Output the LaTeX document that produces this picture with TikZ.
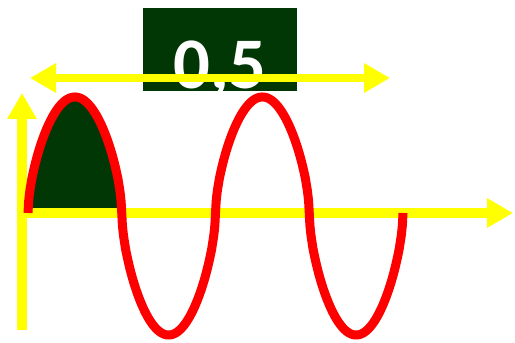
\documentclass[tikz,border=0pt]{standalone}
\usepackage{fontspec}
\setmainfont{Carlito}
\usepackage{xcolor}
\usepackage{tikz}
\usetikzlibrary{arrows.meta,positioning}

\definecolor{boxgreen}{RGB}{0,55,5}
\definecolor{axisyellow}{RGB}{255,255,0}
\definecolor{wavered}{RGB}{255,0,0}

% wave height at x (steep at the crossings, round at the tops)
\tikzset{declare function={
  wavey(\t)=129+(119-3*sign(sin((\t-28)/93.75*180)))*sign(sin((\t-28)/93.75*180))*pow(abs(sin((\t-28)/93.75*180)),0.6);
}}

\begin{document}
\begin{tikzpicture}[
  x=0.03cm, y=0.03cm,
  >={Triangle[length=0.78cm, width=0.84cm]},
  axisline/.style={draw=axisyellow, line width=0.3cm},
  spanline/.style={draw=axisyellow, line width=0.24cm},
  waveline/.style={draw=wavered, line width=0.27cm},
  every node/.style={inner sep=0pt, outer sep=0pt}
]
\useasboundingbox (0,0) rectangle (515,342);

% value box
\node (halfbox) [fill=boxgreen, anchor=north west,
                 minimum width=4.62cm, minimum height=2.49cm] at (143,334) {};
\node (halflbl) [anchor=base, text=white,
                 font=\fontsize{62}{62}\selectfont\bfseries] at (220,253) {0,5};

% filled first half wave
\fill[boxgreen] plot[domain=28:121.75, samples=200] (\x, {wavey(\x)}) -- cycle;

% axes
\coordinate (origin) at (22,129);
\coordinate (ybot)   at (22,12);
\coordinate (ytop)   at (22,249);
\coordinate (xend)   at (513,129);
\draw[axisline, ->] (ybot) -- (ytop);
\draw[axisline, ->] (origin) -- (xend);

% wave
\draw[waveline, line join=round] plot[domain=28:403, samples=601] (\x, {wavey(\x)});

% span arrow
\coordinate (spanl) at (30,264);
\coordinate (spanr) at (390,264);
\draw[spanline, <->] (spanl) -- (spanr);
\end{tikzpicture}
\end{document}
